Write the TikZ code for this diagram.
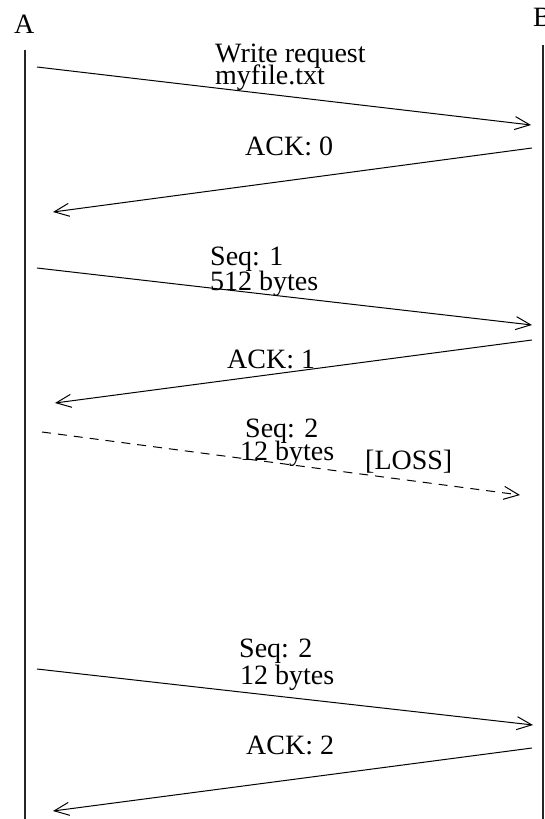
\documentclass[tikz,border=0pt]{standalone}
\usepackage{fontspec}
\setmainfont{Liberation Serif}
\usetikzlibrary{arrows.meta}
\begin{document}
\begin{tikzpicture}[x=1pt,y=-1pt,
  lbl/.style={anchor=base west,inner sep=0pt,font=\fontsize{28}{28}\selectfont},
  life/.style={line width=1.4pt,black!85},
  msg/.style={line width=1pt,-{Straight Barb[length=15pt,width=13pt,line width=1pt]}},
  lost/.style={msg,dash pattern=on 9pt off 7pt}]
\useasboundingbox (0,0) rectangle (544,819);
% lifelines
\coordinate (Atop) at (25,50);
\coordinate (Abot) at (25,819);
\coordinate (Btop) at (543,45);
\coordinate (Bbot) at (543,819);
\draw[life] (Atop) -- (Abot);
\draw[life] (Btop) -- (Bbot);
\node[lbl] (A) at (14,33) {A};
\node[lbl] (B) at (533,27) {B};
% message end points
\coordinate (s1) at (37,67);   \coordinate (e1) at (531,125);
\coordinate (s2) at (532,148); \coordinate (e2) at (53,212);
\coordinate (s3) at (37,268);  \coordinate (e3) at (532,325);
\coordinate (s4) at (532,340); \coordinate (e4) at (55,403);
\coordinate (s5) at (42,432);  \coordinate (e5) at (520,495);
\coordinate (s6) at (37,669);  \coordinate (e6) at (533,725);
\coordinate (s7) at (532,748); \coordinate (e7) at (53,811);
\draw[msg] (s1) -- (e1);
\draw[msg] (s2) -- (e2);
\draw[msg] (s3) -- (e3);
\draw[msg] (s4) -- (e4);
\draw[lost] (s5) -- (e5);
\draw[msg] (s6) -- (e6);
\draw[msg] (s7) -- (e7);
% labels
\node[lbl] (t1a) at (215,62) {Write request};
\node[lbl] (t1b) at (215,84) {myfile.txt};
\node[lbl] (t2) at (245,155) {ACK: 0};
\node[lbl] (t3a) at (210,265) {Seq: 1};
\node[lbl] (t3b) at (210,290) {512 bytes};
\node[lbl] (t4) at (227,368) {ACK: 1};
\node[lbl] (t5a) at (245,437) {Seq: 2};
\node[lbl] (t5b) at (240,460) {12 bytes};
\node[lbl] (t5c) at (365,469) {[LOSS]};
\node[lbl] (t6a) at (239,657) {Seq: 2};
\node[lbl] (t6b) at (240,684) {12 bytes};
\node[lbl] (t7) at (246,754) {ACK: 2};
\end{tikzpicture}
\end{document}
